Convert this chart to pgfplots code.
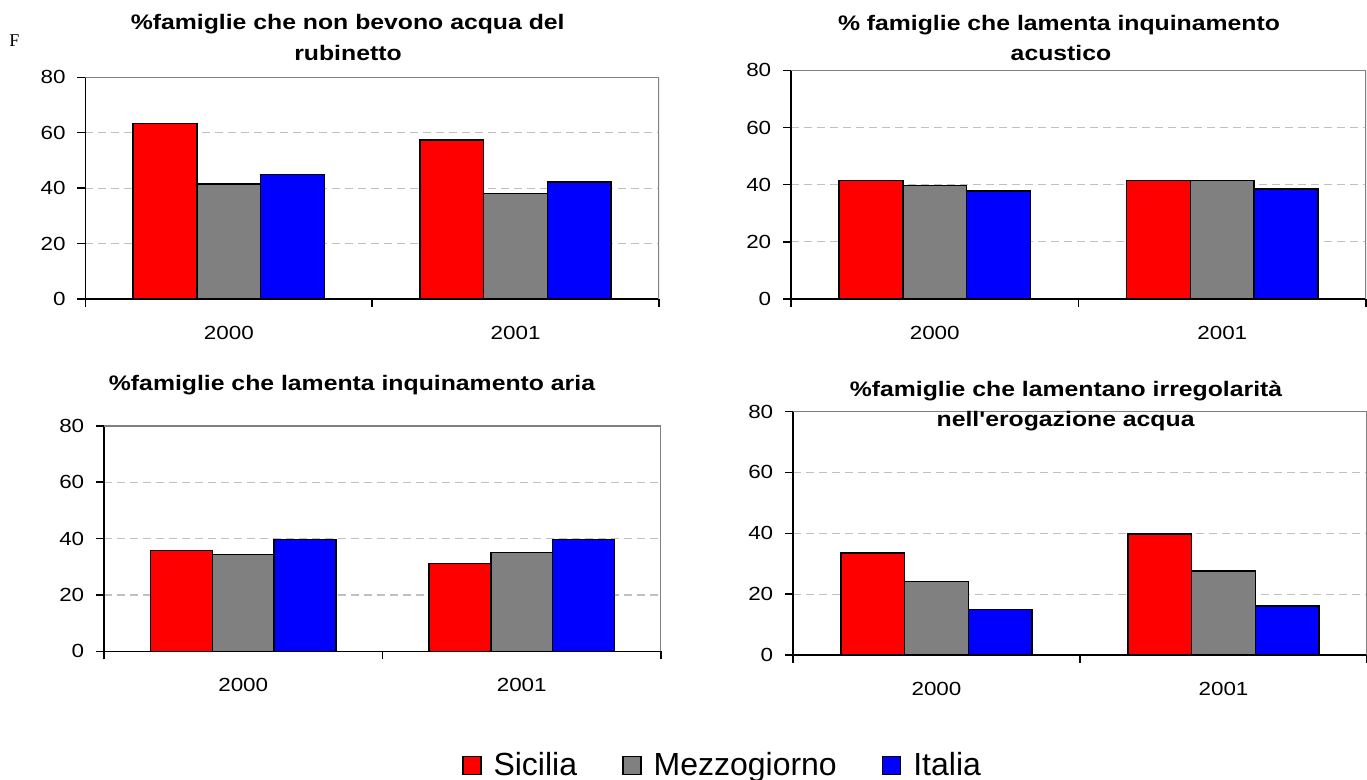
\documentclass[border=0pt]{standalone}
\usepackage{pgfplots}
\pgfplotsset{compat=1.18}
\usepackage{fontspec}
\setmainfont{Liberation Sans}
\newfontfamily\chartfont{Liberation Sans}[FakeStretch=1.18]
\newfontfamily\seriffont{Liberation Serif}
\definecolor{sic}{HTML}{FF0000}
\definecolor{mez}{HTML}{808080}
\definecolor{ita}{HTML}{0000FF}
\definecolor{gridc}{HTML}{C0C0C0}
\definecolor{bord}{HTML}{808080}

\pgfplotsset{
  panel/.style={
    scale only axis,
    anchor=south west,
    ybar=0pt,
    bar width=0.2222,
    ymin=0, ymax=80,
    xmin=-0.5, xmax=1.5,
    ytick={0,20,40,60,80},
    xtick={-0.5,0.5,1.5},
    xticklabels={},
    extra x ticks={0,1},
    extra x tick labels={2000,2001},
    extra x tick style={major tick length=0pt, grid=none},
    axis x line*=bottom,
    axis y line*=left,
    axis line style={-, black, line width=0.75pt},
    tick align=outside,
    major tick length=4pt,
    tick style={black, line width=0.75pt},
    ymajorgrids,
    major grid style={gridc, dash pattern=on 4pt off 2.5pt, line width=0.6pt},
    /pgf/number format/assume math mode=true,
    ticklabel style={font=\chartfont\fontsize{9.5}{11}\selectfont, inner sep=0pt},
    yticklabel shift=5.7pt,
    xticklabel shift=13.5pt,
    every axis plot/.append style={draw=black, line width=0.75pt},
  },
  sicp/.style={fill=sic, bar shift=-0.2222},
  mezp/.style={fill=mez, bar shift=0},
  itap/.style={fill=ita, bar shift=0.2222},
}
\newcommand{\titlefont}{\chartfont\bfseries\fontsize{10.5}{12}\selectfont}
\newcommand{\frameit}{\draw[bord, line width=0.75pt] (rel axis cs:0,1) -- (rel axis cs:1,1) -- (rel axis cs:1,0);}

\begin{document}
\begin{tikzpicture}
\path[use as bounding box] (0,0) rectangle (683.5pt,390pt);

% Panel 1
\begin{axis}[panel, at={(42.7pt,240.5pt)}, width=286.8pt, height=110.85pt]
\addplot[sicp] coordinates {(0,63.4) (1,57.4)};
\addplot[mezp] coordinates {(0,41.5) (1,38.1)};
\addplot[itap] coordinates {(0,45.0) (1,42.2)};
\frameit
\end{axis}

% Panel 2
\begin{axis}[panel, at={(395.5pt,240.5pt)}, width=287.5pt, height=114.35pt]
\addplot[sicp] coordinates {(0,41.5) (1,41.5)};
\addplot[mezp] coordinates {(0,39.7) (1,41.5)};
\addplot[itap] coordinates {(0,37.8) (1,38.4)};
\frameit
\end{axis}

% Panel 3
\begin{axis}[panel, at={(52pt,64.35pt)}, width=278.5pt, height=112.7pt,
  legend columns=3,
  legend style={at={(1.1086,-0.5075)}, anchor=center, draw=none, fill=none,
    font=\fontsize{16}{19}\selectfont, nodes={inner sep=0pt},
    /tikz/every odd column/.append style={column sep=6pt},
    /tikz/every even column/.append style={column sep=22.5pt}},
  legend image code/.code={\draw[#1, draw=black, line width=0.75pt] (0pt,-4.5pt) rectangle (9pt,4.5pt);},
  ]
\addplot[sicp] coordinates {(0,35.7) (1,31.2)};
\addplot[mezp] coordinates {(0,34.4) (1,35.1)};
\addplot[itap] coordinates {(0,39.6) (1,39.6)};
\frameit
\legend{Sicilia, Mezzogiorno, Italia}
\end{axis}

% Panel 4
\begin{axis}[panel, at={(396.5pt,62.5pt)}, width=287pt, height=121.7pt]
\addplot[sicp] coordinates {(0,33.6) (1,39.8)};
\addplot[mezp] coordinates {(0,24.1) (1,27.6)};
\addplot[itap] coordinates {(0,15.0) (1,16.1)};
\frameit
\end{axis}

% Titles
\node[anchor=base, inner sep=0pt, font=\titlefont] at (173.85pt,375.3pt) {\%famiglie che non bevono acqua del};
\node[anchor=base, inner sep=0pt, font=\titlefont] at (174pt,359.9pt) {rubinetto};
\node[anchor=base, inner sep=0pt, font=\titlefont] at (529.5pt,374.7pt) {\% famiglie che lamenta inquinamento};
\node[anchor=base, inner sep=0pt, font=\titlefont] at (530.5pt,359.65pt) {acustico};
\node[anchor=base, inner sep=0pt, font=\titlefont] at (176pt,194.5pt) {\%famiglie che lamenta inquinamento aria};
\node[anchor=base, inner sep=0pt, font=\titlefont] at (533pt,191.7pt) {\%famiglie che lamentano irregolarità};
\node[anchor=base, inner sep=0pt, font=\titlefont] at (532.8pt,176.7pt) {nell'erogazione acqua};
\node[anchor=base west, inner sep=0pt, font=\seriffont\fontsize{9}{10}\selectfont] at (4.5pt,366.5pt) {F};
\end{tikzpicture}
\end{document}
